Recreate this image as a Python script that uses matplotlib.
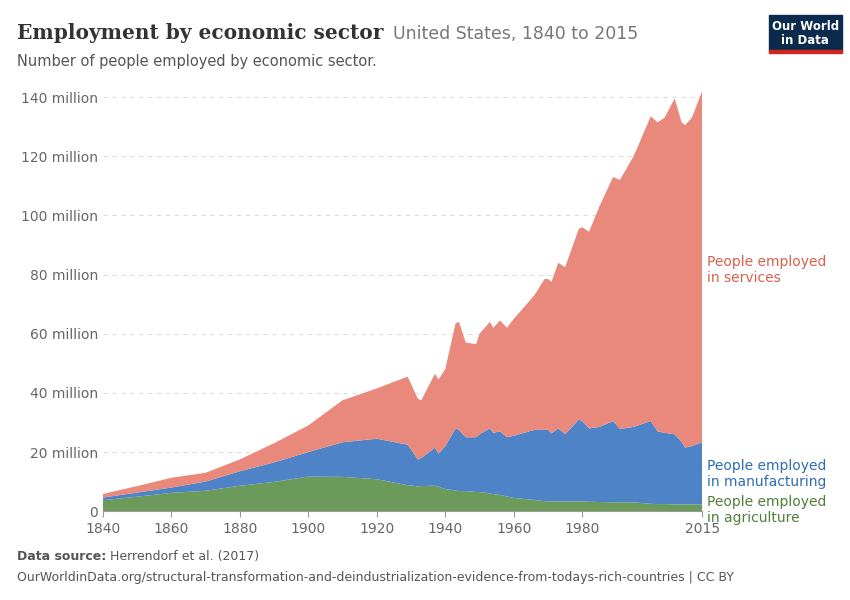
import numpy as np
import matplotlib.pyplot as plt

years = [1840, 1850, 1860, 1870, 1880, 1890, 1900, 1910, 1920, 1929, 1932, 1933,
         1937, 1938, 1940, 1943, 1944, 1946, 1949, 1950, 1953, 1954, 1956, 1958,
         1960, 1966, 1969, 1970, 1971, 1973, 1975, 1979, 1980, 1982, 1985, 1989,
         1991, 1995, 2000, 2002, 2004, 2007, 2009, 2010, 2012, 2015]
# millions of people
agriculture = [3.7, 4.9, 6.2, 6.9, 8.6, 9.9, 11.7, 11.6, 10.8, 8.8, 8.4, 8.5,
               8.6, 8.3, 7.5, 7.0, 6.8, 6.8, 6.5, 6.5, 6.0, 5.8, 5.5, 5.0,
               4.5, 3.8, 3.4, 3.3, 3.3, 3.3, 3.3, 3.3, 3.3, 3.2, 3.1, 3.0,
               3.0, 3.0, 2.5, 2.4, 2.4, 2.3, 2.3, 2.3, 2.3, 2.3]
manufacturing = [0.9, 1.4, 1.8, 3.1, 4.9, 6.6, 8.3, 11.7, 13.7, 13.7, 9.1, 9.5,
                 12.9, 11.2, 14.5, 21.0, 20.7, 18.2, 18.5, 19.5, 22.0, 20.7, 21.5, 20.0,
                 21.0, 23.7, 24.1, 24.2, 23.0, 24.7, 22.7, 27.7, 27.2, 24.8, 25.4, 27.5,
                 24.8, 25.5, 28.0, 24.6, 24.1, 23.7, 21.2, 19.2, 19.7, 21.0]
services = [1.2, 2.2, 3.3, 3.0, 4.0, 6.5, 9.0, 14.2, 17.0, 23.0, 20.5, 19.5,
            25.0, 25.0, 26.0, 35.5, 36.5, 32.0, 31.5, 34.0, 36.0, 35.5, 37.5, 37.0,
            39.5, 45.5, 51.0, 51.0, 51.2, 56.0, 56.5, 64.5, 65.5, 66.5, 74.5, 82.5,
            84.2, 91.5, 103.0, 104.5, 106.5, 113.5, 108.0, 109.0, 111.0, 118.7]

c_serv, c_manu, c_agri = "#E8897B", "#4F83C7", "#6C9A5A"

fig = plt.figure(figsize=(8.5, 6), dpi=100)
ax = fig.add_axes([0.121, 0.148, 0.705, 0.7])
ax.stackplot(years, agriculture, manufacturing, services,
             colors=[c_agri, c_manu, c_serv], linewidth=0)
ax.set_xlim(1840, 2015)
ax.set_ylim(0, 142)
ax.set_yticks(range(0, 141, 20))
ax.set_yticklabels(["0"] + [f"{v} million" for v in range(20, 141, 20)])
ax.set_xticks([1840, 1860, 1880, 1900, 1920, 1940, 1960, 1980, 2015])
ax.yaxis.grid(True, linestyle=(0, (4, 4)), color="#dddddd")
ax.set_axisbelow(True)
for s in ["top", "right", "left"]:
    ax.spines[s].set_visible(False)
ax.spines["bottom"].set_color("#999999")
ax.tick_params(axis="y", length=0, labelsize=10, colors="#666666")
ax.tick_params(axis="x", length=4, color="#999999", labelsize=10, labelcolor="#666666")

ax.text(2016.3, 81.5, "People employed\nin services", color="#D8604D", fontsize=10,
        va="center", clip_on=False)
ax.text(2016.3, 12.5, "People employed\nin manufacturing", color="#2E6DB4", fontsize=10,
        va="center", clip_on=False)
ax.text(2016.3, 0.5, "People employed\nin agriculture", color="#4F7F3C", fontsize=10,
        va="center", clip_on=False)

fig.text(0.02, 0.945, "Employment by economic sector", fontsize=14.5, fontweight="bold",
         family="DejaVu Serif", color="#333333", va="center")
fig.text(0.462, 0.943, "United States, 1840 to 2015", fontsize=12.5, color="#777777", va="center")
fig.text(0.02, 0.897, "Number of people employed by economic sector.", fontsize=10.5,
         color="#555555", va="center")
fig.text(0.02, 0.073, "Data source: ", fontsize=9, color="#555555", fontweight="bold", va="center")
fig.text(0.13, 0.073, "Herrendorf et al. (2017)", fontsize=9, color="#555555", va="center")
fig.text(0.02, 0.037, "OurWorldinData.org/structural-transformation-and-deindustrialization-evidence-from-todays-rich-countries | CC BY",
         fontsize=9, color="#555555", va="center")

fig.patches.append(plt.Rectangle((0.905, 0.915), 0.085, 0.06, transform=fig.transFigure,
                                 color="#0C2A4D"))
fig.patches.append(plt.Rectangle((0.905, 0.912), 0.085, 0.004, transform=fig.transFigure,
                                 color="#CE261E"))
fig.text(0.9475, 0.945, "Our World\nin Data", color="white", fontsize=8.5, ha="center",
         va="center", fontweight="bold", linespacing=1.1)

fig.savefig("out.png")
